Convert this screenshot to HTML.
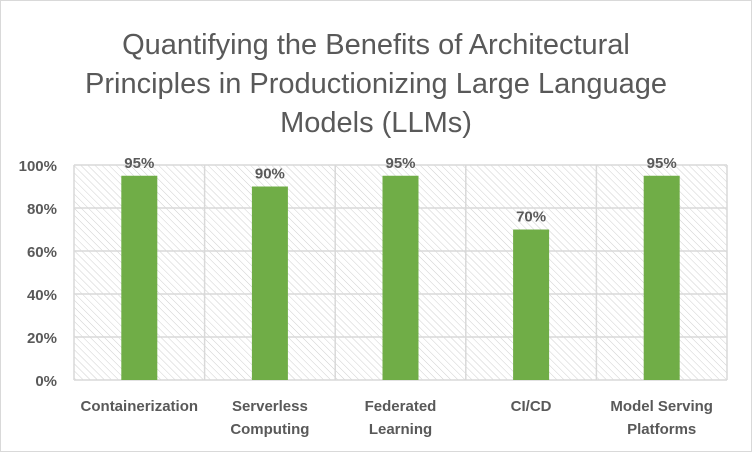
<!DOCTYPE html>
<html><head><meta charset="utf-8"><style>
body{margin:0;background:#fff;}
svg{display:block;font-family:"Liberation Sans",Calibri,sans-serif;}
</style></head><body>
<svg id="c" width="752" height="452">
<defs>
<pattern id="hatch" width="5" height="5" patternUnits="userSpaceOnUse" patternTransform="rotate(-45)">
<line x1="0" y1="0" x2="0" y2="5" stroke="#d0d0d0" stroke-width="1"/>
</pattern>
</defs>
<rect x="0.5" y="0.5" width="751" height="451" fill="#fff" stroke="#d9d9d9"/>
<g fill="#595959" font-size="29" text-anchor="middle">
<text x="376" y="54">Quantifying the Benefits of Architectural</text>
<text x="376" y="93">Principles in Productionizing Large Language</text>
<text x="376" y="132">Models (LLMs)</text>
</g>
<g id="plot"></g>
</svg>
<script>
const categories=["Containerization","Serverless|Computing","Federated|Learning","CI/CD","Model Serving|Platforms"];
const values=[95,90,95,70,95];
const labels=["95%","90%","95%","70%","95%"];
const ticks=[0,20,40,60,80,100];
const NS="http://www.w3.org/2000/svg";
const L=74,R=727,T=165,B=380;
const y=v=>B-(v/100)*(B-T);
const cw=(R-L)/categories.length;
const x=i=>L+cw*i;
const g=document.getElementById('plot');
function mk(t,a){const e=document.createElementNS(NS,t);for(const k in a)e.setAttribute(k,a[k]);g.appendChild(e);return e;}
let bg=mk('rect',{x:L,y:T,width:R-L,height:B-T,fill:'url(#hatch)'});


ticks.forEach(t=>{
 let l=mk('line',{x1:L,x2:R,y1:y(t),y2:y(t),stroke:'#d9d9d9','stroke-width':1.5});
 
 
 let tx=mk('text',{x:L-17,y:y(t)+6,'text-anchor':'end','font-size':15,'font-weight':'bold',fill:'#595959'});
 tx.textContent=t+'%';
 
 
});
for(let i=0;i<=categories.length;i++){
 let l=mk('line',{x1:x(i),x2:x(i),y1:T,y2:B,stroke:'#d9d9d9','stroke-width':1.5});
 
 
}
const bw=36;
categories.forEach((c,i)=>{
 const cx=x(i)+cw/2;
 let b=mk('rect',{x:cx-bw/2,y:y(values[i]),width:bw,height:B-y(values[i]),fill:'#70ad47'});
 
 
 let dl=mk('text',{x:cx,y:y(values[i])-8,'text-anchor':'middle','font-size':15,'font-weight':'bold',fill:'#595959'});
 dl.textContent=labels[i];
 
 
 c.split('|').forEach((p,j)=>{
  let t=mk('text',{x:cx,y:411+j*23,'text-anchor':'middle','font-size':15,'font-weight':'bold',fill:'#595959'});
  t.textContent=p;
  
  
 });
});
</script>
</body></html>
